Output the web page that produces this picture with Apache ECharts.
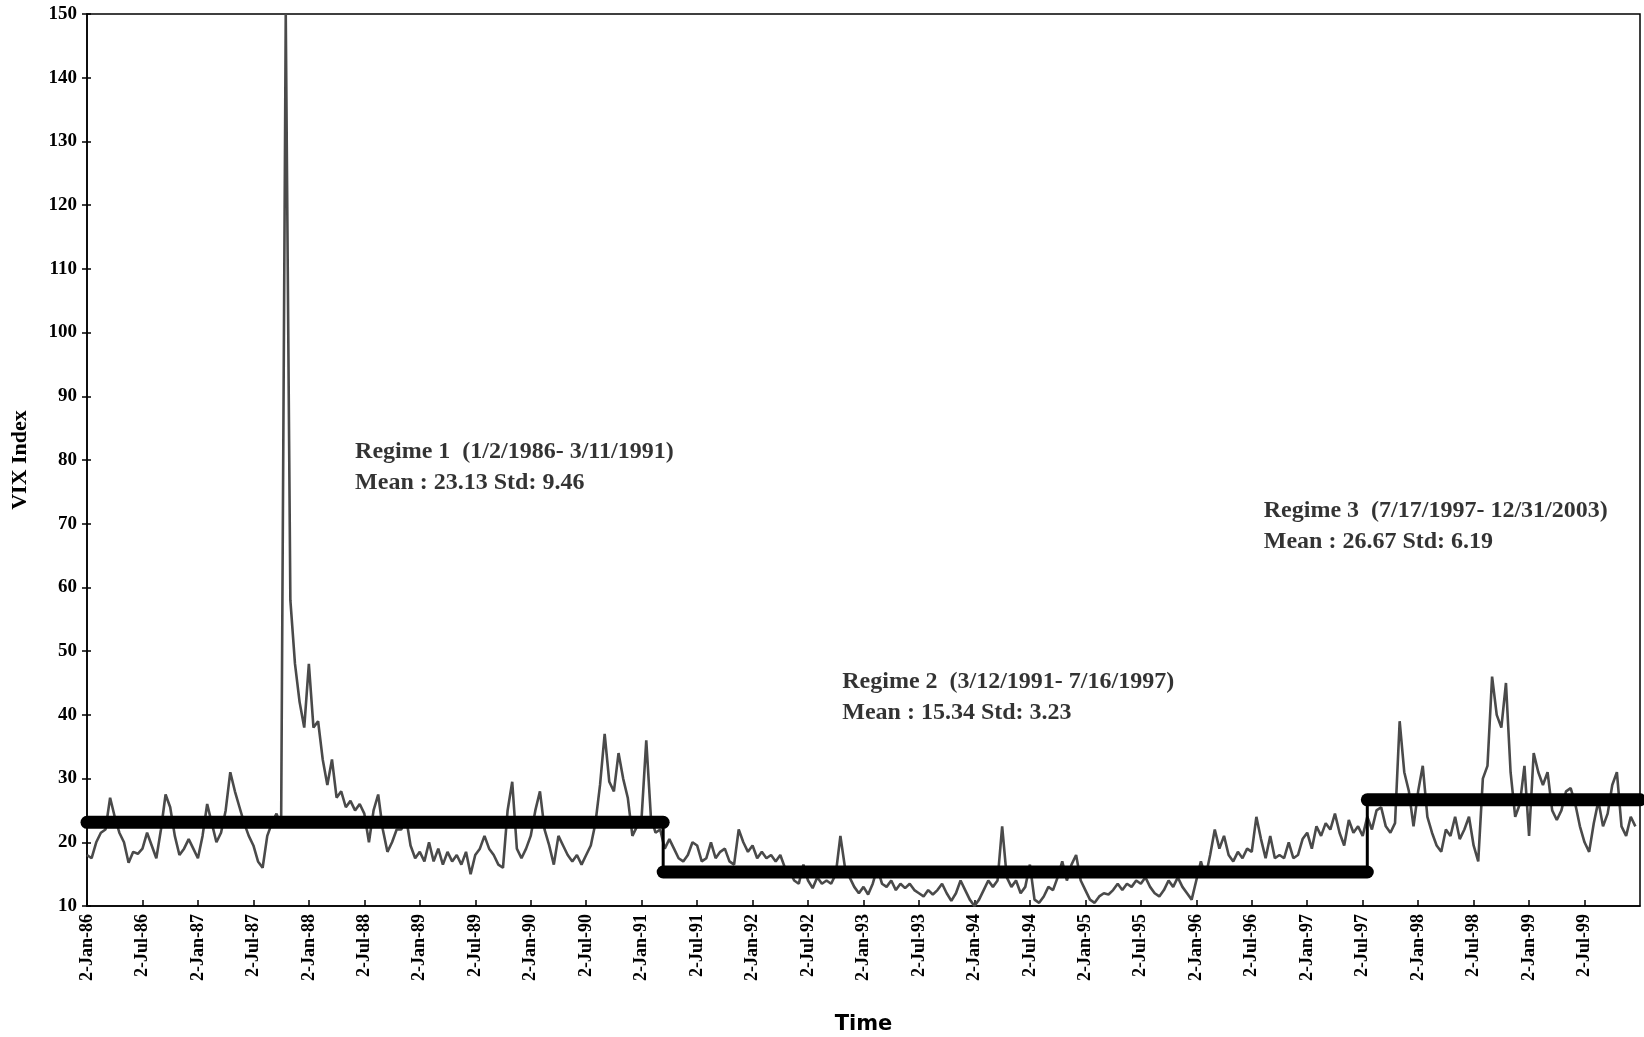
<!DOCTYPE html>
<html>
<head>
<meta charset="utf-8">
<script src="https://cdn.jsdelivr.net/npm/echarts@6/dist/echarts.min.js"></script>
<style>
html,body{margin:0;padding:0;background:#fff;}
#chart{width:1644px;height:1037px;}
</style>
</head>
<body>
<div id="chart"></div>
<script>
// VIX index, read semi-monthly (24 values per year), starting 2-Jan-86
const y1986 = [18,17.5,20,21.5,22,27,24,21.5,20,16.8,18.5,18.2,19,21.5,19.5,17.5,22,27.5,25.5,21,18,19,20.5,19];
const y1987 = [17.5,21,26,23,20,21.5,25,31,28,25.5,23,21,19.5,17,16,21,23,24.5,22.5,150,58,48,42,38];
const y1988 = [48,38,39,33,29,33,27,28,25.5,26.5,25,26,24.5,20,25,27.5,22,18.5,20,22,22,24,19.5,17.5];
const y1989 = [18.5,17,20,17,19,16.5,18.5,17,18,16.5,18.5,15,18,19,21,19,18,16.5,16,25,29.5,19,17.5,19];
const y1990 = [21,25,28,22,19.5,16.5,21,19.5,18,17,18,16.5,18,19.5,23,29,37,29.5,28,34,30,27,21,22.5];
const y1991 = [24,36,24,21.5,22,19,20.5,19,17.5,17,18,20,19.5,17,17.5,20,17.5,18.5,19,17,16.5,22,20,18.5];
const y1992 = [19.5,17.5,18.5,17.5,18,17,18,16,15.5,14,13.5,16.5,14,12.8,14.5,13.5,14,13.5,15,21,16,14.5,13,12];
const y1993 = [13,11.8,13.5,16,13.5,13,14,12.5,13.5,12.8,13.5,12.5,12,11.5,12.5,11.8,12.5,13.5,12,10.8,12,14,12.5,11];
const y1994 = [10,11,12.5,14,13,14,22.5,14.5,13,14,12,13,16.5,11,10.5,11.5,13,12.5,14.5,17,14,16.5,18,14];
const y1995 = [12.5,11,10.5,11.5,12,11.8,12.5,13.5,12.5,13.5,13,14,13.5,14.5,13,12,11.5,12.5,14,13,14.5,13,12,11];
const y1996 = [14,17,14.5,18,22,19,21,18,17,18.5,17.5,19,18.5,24,20.5,17.5,21,17.5,18,17.5,20,17.5,18,20.5];
const y1997 = [21.5,19,22.5,21,23,22,24.5,21.5,19.5,23.5,21.5,22.5,21,24,22,25,25.5,22.5,21.5,23,39,31,28,22.5];
const y1998 = [28,32,24,21.5,19.5,18.5,22,21,24,20.5,22,24,19.5,17,30,32,46,40,38,45,31,24,26,32];
const y1999 = [21,34,31,29,31,25,23.5,25,28,28.5,26,22.5,20,18.5,23,26.5,22.5,24.5,29,31,22.5,21,24,22.5];
const vixYears = [y1986,y1987,y1988,y1989,y1990,y1991,y1992,y1993,y1994,y1995,y1996,y1997,y1998,y1999];

// Regimes (x in months since Jan 1986)
const regimeStart = [0, 62.33, 138.5];
const regimeEnd   = [62.33, 138.5, 168];
const regimeMean  = [23.13, 15.34, 26.67];
const regimeTitle = ['Regime 1  (1/2/1986- 3/11/1991)', 'Regime 2  (3/12/1991- 7/16/1997)', 'Regime 3  (7/17/1997- 12/31/2003)'];
const regimeStats = ['Mean : 23.13 Std: 9.46', 'Mean : 15.34 Std: 3.23', 'Mean : 26.67 Std: 6.19'];
const labelAnchorX = [29, 81.7, 127.3];
const labelAnchorY = [78.8, 42.8, 69.6];

const monthNames = ['Jan','Feb','Mar','Apr','May','Jun','Jul','Aug','Sep','Oct','Nov','Dec'];

const vixData = [];
vixYears.forEach((arr, yi) => arr.forEach((v, i) => vixData.push([yi * 12 + i * 0.5, v])));

const serif = 'Liberation Serif';
const series = [{
  type: 'line', data: vixData, showSymbol: false, z: 2,
  lineStyle: { color: '#4a4a4a', width: 2.6 }
}];
regimeMean.forEach((m, i) => {
  series.push({
    type: 'line', showSymbol: false, z: 4,
    data: [[regimeStart[i], m], [regimeEnd[i], m]],
    lineStyle: { color: '#000', width: 13, cap: 'round' }
  });
  if (i < regimeMean.length - 1) {
    series.push({
      type: 'line', showSymbol: false, z: 4,
      data: [[regimeEnd[i], m], [regimeEnd[i], regimeMean[i + 1]]],
      lineStyle: { color: '#000', width: 3 }
    });
  }
});
series.push({
  type: 'scatter', symbolSize: 0, z: 5, silent: true,
  data: labelAnchorX.map((x, i) => ({ value: [x, labelAnchorY[i]], name: regimeTitle[i] + '\n' + regimeStats[i] })),
  label: {
    show: true, position: 'right', distance: 0, formatter: p => p.name,
    fontFamily: serif, fontWeight: 'bold', fontSize: 24, lineHeight: 31, color: '#000', align: 'left'
  }
});

const chart = echarts.init(document.getElementById('chart'));
chart.setOption({
  animation: false,
  backgroundColor: '#fff',
  grid: { left: 87, right: 4, top: 14, bottom: 131, show: true, borderColor: '#000', borderWidth: 1.5,
          containLabel: false, outerBoundsMode: 'none' },
  xAxis: {
    type: 'value', min: 0, max: 168, interval: 6,
    name: 'Time', nameLocation: 'middle', nameGap: 108,
    nameTextStyle: { fontFamily: 'DejaVu Sans', fontWeight: 'bold', fontSize: 21, color: '#000' },
    axisLine: { show: true, lineStyle: { color: '#000', width: 1.5 } },
    axisTick: { show: true, inside: true, length: 6, lineStyle: { color: '#000', width: 1.5 } },
    splitLine: { show: false },
    axisLabel: {
      rotate: 90, margin: 8, showMaxLabel: false,
      fontFamily: serif, fontWeight: 'bold', fontSize: 18, color: '#000',
      formatter: v => '2-' + monthNames[v % 12] + '-' + String(86 + Math.floor(v / 12)).padStart(2, '0')
    }
  },
  yAxis: [{
    type: 'value', min: 10, max: 150, interval: 10,
    name: 'VIX Index', nameLocation: 'middle', nameGap: 56,
    nameTextStyle: { fontFamily: serif, fontWeight: 'bold', fontSize: 22, color: '#000' },
    axisLine: { show: true, lineStyle: { color: '#000', width: 1.5 } },
    axisTick: { show: true, length: 5, lineStyle: { color: '#000', width: 1.5 } },
    splitLine: { show: false },
    axisLabel: { margin: 10, fontFamily: serif, fontWeight: 'bold', fontSize: 19, color: '#000' }
  }, {
    type: 'value', min: 10, max: 150, interval: 10, position: 'left',
    axisLine: { show: false },
    axisTick: { show: true, inside: true, length: 4, lineStyle: { color: '#000', width: 1.5 } },
    axisLabel: { show: false }, splitLine: { show: false }
  }],
  series: series
});
</script>
</body>
</html>
